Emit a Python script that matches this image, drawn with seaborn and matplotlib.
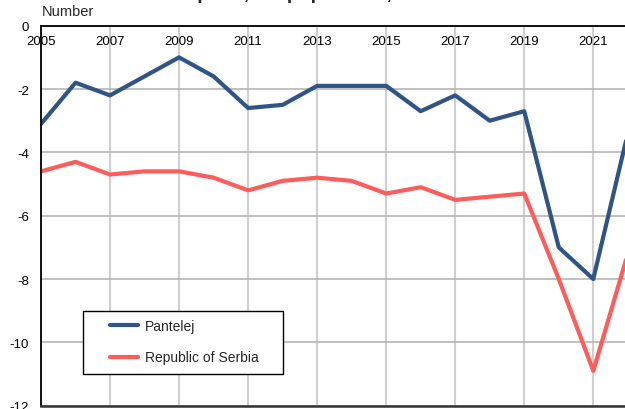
import matplotlib
matplotlib.use("Agg")
import matplotlib.pyplot as plt
import seaborn as sns
import pandas as pd
from matplotlib.patches import Rectangle
from matplotlib.lines import Line2D

years = list(range(2005, 2023))
pantelej = [-3.1, -1.8, -2.2, -1.6, -1.0, -1.6, -2.6, -2.5, -1.9, -1.9, -1.9,
            -2.7, -2.2, -3.0, -2.7, -7.0, -8.0, -3.4]
serbia = [-4.6, -4.3, -4.7, -4.6, -4.6, -4.8, -5.2, -4.9, -4.8, -4.9, -5.3,
          -5.1, -5.5, -5.4, -5.3, -8.0, -10.9, -7.2]
series_names = ["Pantelej", "Republic of Serbia"]
colors = ["#2f5485", "#ff5c5c"]
x_ticks = list(range(2005, 2022, 2))
y_ticks = [0, -2, -4, -6, -8, -10, -12]
title = "Natural increase per 1,000 population, 2005-2022"
y_label = "Number"

df = pd.DataFrame({
    "year": years * 2,
    "value": pantelej + serbia,
    "series": [series_names[0]] * len(years) + [series_names[1]] * len(years),
})

sns.set_style("white")
plt.rcParams["font.family"] = ["Liberation Sans", "DejaVu Sans"]
plt.rcParams["axes.unicode_minus"] = False

fig = plt.figure(figsize=(6.25, 4.1), dpi=100)
W, H = 625, 410
left, right, top, bottom = 41, 627.8, 26.7, 406.7
ax = fig.add_axes([left / W, 1 - bottom / H, (right - left) / W, (bottom - top) / H])

sns.lineplot(data=df, x="year", y="value", hue="series", palette=colors,
             hue_order=series_names, linewidth=3.0, ax=ax, legend=False)

ax.set_xlim(2005, 2022)
ax.set_ylim(-12, 0)
ax.set_xticks(x_ticks)
ax.set_xticklabels([str(t) for t in x_ticks])
ax.set_yticks(y_ticks)
ax.set_yticklabels([str(t) for t in y_ticks])
ax.set_xlabel("")
ax.set_ylabel("")

ax.tick_params(axis="x", top=True, labeltop=True, bottom=False, labelbottom=False,
               length=0, pad=-15.5, labelsize=9.5, colors="black")
ax.tick_params(axis="y", length=0, pad=8.5, labelsize=9.5, colors="black")

ax.xaxis.grid(True, color="#cfcfcf", linewidth=1.5)
ax.yaxis.grid(True, color="#b5b5b5", linewidth=1.2)
ax.set_axisbelow(True)

for s in ["left", "top"]:
    ax.spines[s].set_visible(True)
    ax.spines[s].set_color("black")
    ax.spines[s].set_linewidth(1.3)
ax.spines["bottom"].set_color("#333333")
ax.spines["bottom"].set_linewidth(1.8)
ax.spines["right"].set_visible(False)

# legend
handles = [Line2D([0], [0], color=c, linewidth=3.0) for c in colors]
def px_to_ax(px, py):
    return ((px - left) / (right - left), (bottom - py) / (bottom - top))
leg = ax.legend(handles, series_names, loc="upper left",
                bbox_to_anchor=px_to_ax(110, 320), frameon=False,
                borderpad=0, borderaxespad=0, handlelength=2.0,
                handletextpad=0.5, labelspacing=1.25, fontsize=10)
x0, y0 = px_to_ax(83, 375)
x1, y1 = px_to_ax(283, 312)
ax.add_patch(Rectangle((x0, y0), x1 - x0, y1 - y0, transform=ax.transAxes,
                       facecolor="white", edgecolor="black", linewidth=1.0,
                       zorder=4))
leg.set_zorder(5)

fig.text(42 / W, 1 - 12.5 / H, y_label, ha="left", va="center", fontsize=10.5)
fig.text(40 / W, 1 + 0.6 / H, title, ha="left", va="baseline", fontsize=14,
         fontweight="bold")

fig.savefig("out.png", dpi=100)
